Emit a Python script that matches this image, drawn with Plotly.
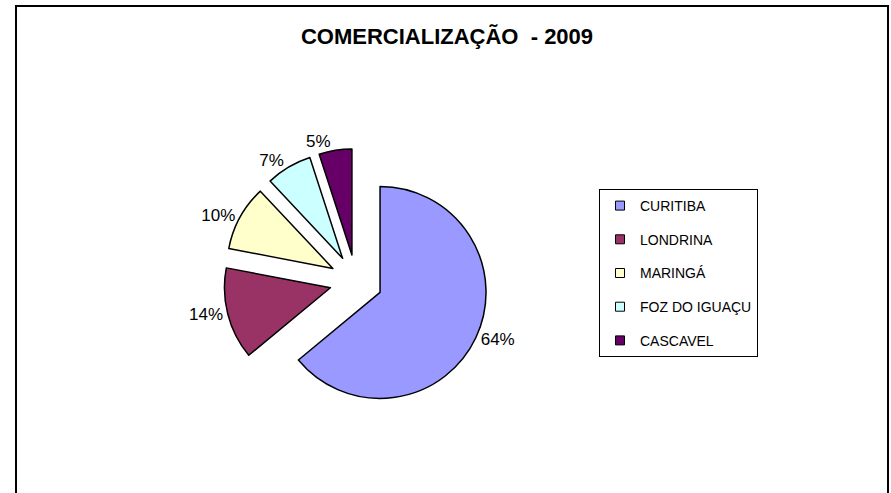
import plotly.graph_objects as go

title_text = "COMERCIALIZAÇÃO  - 2009"
categories = ["CURITIBA", "LONDRINA", "MARINGÁ", "FOZ DO IGUAÇU", "CASCAVEL"]
values = [64, 14, 10, 7, 5]
colors = ["#9999FF", "#993366", "#FFFFCC", "#CCFFFF", "#660066"]

FONT = "Liberation Sans, Arial, sans-serif"

fig = go.Figure()

fig.add_trace(go.Pie(
    labels=categories,
    values=values,
    sort=False,
    direction="clockwise",
    rotation=0,
    pull=[0.25] * len(values),
    marker=dict(colors=colors, line=dict(color="black", width=1.5)),
    textinfo="percent",
    texttemplate="%{percent:.0%}",
    textposition="outside",
    textfont=dict(family=FONT, size=17, color="black"),
    domain=dict(x=[0.238, 0.542], y=[0.163, 0.707]),
    showlegend=False,
    hoverinfo="label+percent",
))

# legend entries (one per category, no drawn data)
for name, col in zip(categories, colors):
    fig.add_trace(go.Scatter(
        x=[None], y=[None], mode="markers", name=name, legendgroup=name,
        marker=dict(symbol="square", size=9, color=col, line=dict(color="black", width=1)),
        hoverinfo="skip",
    ))

fig.update_layout(
    width=891, height=493,
    margin=dict(l=16, r=3, t=6, b=0),
    paper_bgcolor="white", plot_bgcolor="white",
    font=dict(family=FONT, color="black"),
    title=dict(text="<b>" + title_text + "</b>", x=447 / 891, xref="container", xanchor="center",
               y=1 - 36 / 493, yref="container", yanchor="middle",
               font=dict(family=FONT, size=22, color="black")),
    xaxis=dict(visible=False), yaxis=dict(visible=False),
    legend=dict(x=(599 - 16) / 872, xanchor="left", y=(493 - 189) / 487, yanchor="top",
                bordercolor="black", borderwidth=1, bgcolor="white",
                font=dict(family=FONT, size=14, color="black"),
                traceorder="grouped", tracegroupgap=12.5, itemwidth=30),
    shapes=[dict(type="rect", xref="paper", yref="paper", x0=0, x1=1, y0=-0.02, y1=1,
                 line=dict(color="black", width=2), layer="below")],
)

fig.write_html("out.html", config={"displayModeBar": False},
               post_script="document.body.style.margin='0';document.body.style.padding='0';")
